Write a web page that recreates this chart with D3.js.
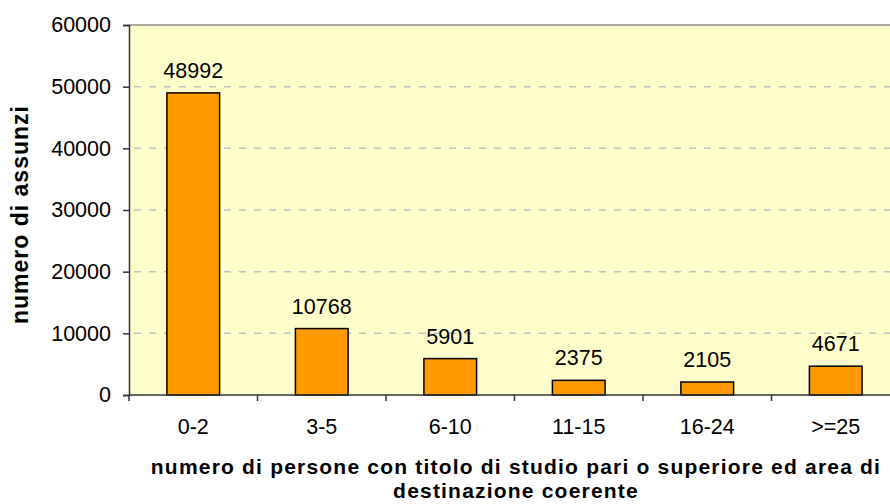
<!DOCTYPE html>
<html>
<head>
<meta charset="utf-8">
<script src="https://cdn.jsdelivr.net/npm/d3@7"></script>
<style>
  body { margin: 0; background: #fff; }
  text { font-family: Arial, "Liberation Sans", sans-serif; }
</style>
</head>
<body>
<script>
// chart data
const categories = ['0-2', '3-5', '6-10', '11-15', '16-24', '>=25'];
const values = [48992, 10768, 5901, 2375, 2105, 4671];
const yTicks = [0, 10000, 20000, 30000, 40000, 50000, 60000];

const width = 890;
const height = 504;
const plot = { left: 129, top: 25, right: 900, bottom: 395 };
const fontSize = 21.5;

const svg = d3.select('body').append('svg')
  .attr('width', width)
  .attr('height', height);

const x = d3.scaleBand()
  .domain(categories)
  .range([plot.left, plot.right])
  .paddingInner(0.59)
  .paddingOuter(0.295);

const y = d3.scaleLinear()
  .domain([0, 60000])
  .range([plot.bottom, plot.top]);

// plot background
svg.append('rect')
  .attr('x', plot.left)
  .attr('y', plot.top)
  .attr('width', plot.right - plot.left)
  .attr('height', plot.bottom - plot.top)
  .attr('fill', '#FFFFCC');

// gridlines
svg.selectAll('.grid')
  .data(yTicks.filter(d => d > 0 && d < 60000))
  .enter().append('line')
  .attr('class', 'grid')
  .attr('x1', plot.left + 5)
  .attr('x2', plot.right)
  .attr('y1', d => y(d))
  .attr('y2', d => y(d))
  .attr('stroke', '#C0C0C0')
  .attr('stroke-width', 1.5)
  .attr('stroke-dasharray', '7,8');

// top border
svg.append('line')
  .attr('x1', plot.left)
  .attr('x2', plot.right)
  .attr('y1', plot.top)
  .attr('y2', plot.top)
  .attr('stroke', '#8c8c8c')
  .attr('stroke-width', 1.5);

// bars
svg.selectAll('.bar')
  .data(values)
  .enter().append('rect')
  .attr('class', 'bar')
  .attr('x', (d, i) => x(categories[i]))
  .attr('y', d => y(d))
  .attr('width', x.bandwidth())
  .attr('height', d => y(0) - y(d))
  .attr('fill', '#FF9900')
  .attr('stroke', '#000')
  .attr('stroke-width', 1.5);

// value labels
svg.selectAll('.value')
  .data(values)
  .enter().append('text')
  .attr('class', 'value')
  .attr('x', (d, i) => x(categories[i]) + x.bandwidth() / 2)
  .attr('y', d => y(d) - 15)
  .attr('text-anchor', 'middle')
  .attr('font-size', fontSize)
  .attr('fill', '#000')
  .text(d => d);

// y axis
const yAxis = svg.append('g')
  .attr('transform', `translate(${plot.left},0)`)
  .call(d3.axisLeft(y).tickValues(yTicks).tickSize(6).tickPadding(12).tickFormat(d3.format('d')));
yAxis.select('.domain').attr('stroke', '#333').attr('stroke-width', 1.5);
yAxis.selectAll('.tick line').attr('stroke', '#333').attr('stroke-width', 1.5);
yAxis.selectAll('.tick text')
  .attr('font-size', fontSize)
  .attr('font-family', 'Arial, "Liberation Sans", sans-serif')
  .attr('fill', '#000');

// x axis baseline
svg.append('line')
  .attr('x1', plot.left)
  .attr('x2', plot.right)
  .attr('y1', plot.bottom)
  .attr('y2', plot.bottom)
  .attr('stroke', '#333')
  .attr('stroke-width', 1.5);

// category boundary ticks
const step = x.step();
svg.selectAll('.xtick')
  .data(categories)
  .enter().append('line')
  .attr('class', 'xtick')
  .attr('x1', d => x(d) + x.bandwidth() / 2 - step / 2)
  .attr('x2', d => x(d) + x.bandwidth() / 2 - step / 2)
  .attr('y1', plot.bottom)
  .attr('y2', plot.bottom + 6)
  .attr('stroke', '#333')
  .attr('stroke-width', 1.5);

// category labels
svg.selectAll('.xlabel')
  .data(categories)
  .enter().append('text')
  .attr('class', 'xlabel')
  .attr('x', d => x(d) + x.bandwidth() / 2)
  .attr('y', 434)
  .attr('text-anchor', 'middle')
  .attr('font-size', fontSize)
  .text(d => d);

// x axis title
const xTitle = svg.append('text')
  .attr('text-anchor', 'middle')
  .attr('font-size', 21)
  .attr('font-weight', 'bold')
  .attr('letter-spacing', 1.2);
xTitle.append('tspan').attr('x', 516).attr('y', 474)
  .text('numero di persone con titolo di studio pari o superiore ed area di');
xTitle.append('tspan').attr('x', 516).attr('y', 498)
  .text('destinazione coerente');

// y axis title, clipped like the original
svg.append('clipPath').attr('id', 'ytclip')
  .append('rect').attr('x', 0).attr('y', 105).attr('width', 40).attr('height', 300);
svg.append('g')
  .attr('clip-path', 'url(#ytclip)')
  .append('text')
  .attr('transform', 'translate(28,324) rotate(-90)')
  .attr('text-anchor', 'start')
  .attr('font-size', 23)
  .attr('font-weight', 'bold')
  .attr('letter-spacing', 1)
  .text('numero di assunzioni');
</script>
</body>
</html>
